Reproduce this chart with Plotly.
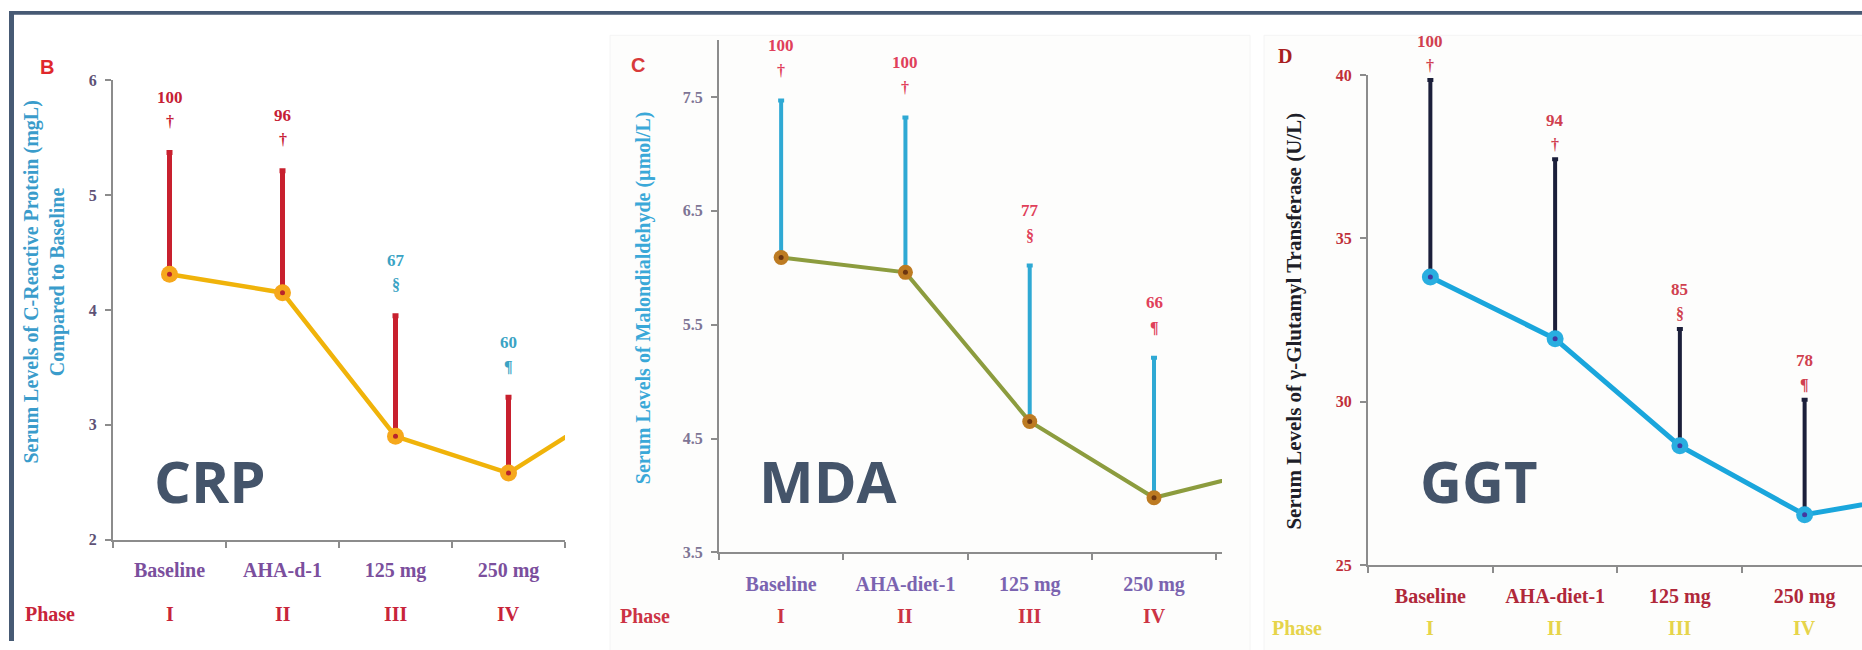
import plotly.graph_objects as go

# ---- data -------------------------------------------------------------
phases = ["I", "II", "III", "IV"]
sig_marks = ["†", "†", "§", "¶"]

crp_labels = ["Baseline", "AHA-d-1", "125 mg", "250 mg"]
crp_mean = [4.31, 4.15, 2.90, 2.58, 3.20]      # last value: following phase
crp_sd = [1.06, 1.06, 1.05, 0.66]
crp_pct = [100, 96, 67, 60]

mda_labels = ["Baseline", "AHA-diet-1", "125 mg", "250 mg"]
mda_mean = [6.09, 5.96, 4.65, 3.98, 4.25]
mda_sd = [1.38, 1.36, 1.37, 1.23]
mda_pct = [100, 100, 77, 66]

ggt_labels = ["Baseline", "AHA-diet-1", "125 mg", "250 mg"]
ggt_mean = [33.82, 31.93, 28.65, 26.54, 27.20]
ggt_sd = [6.03, 5.50, 3.58, 3.52]
ggt_pct = [100, 94, 85, 78]

crp_ticks = [2, 3, 4, 5, 6]
mda_ticks = [3.5, 4.5, 5.5, 6.5, 7.5]
ggt_ticks = [25, 30, 35, 40]

# ---- canvas helpers ----------------------------------------------------
W, H = 1862, 650


def px(x):
    return x / W


def py(y):
    return 1 - y / H


SERIF = "Liberation Serif"

panels = [
    dict(key="", letter="B", name="CRP", labels=crp_labels, mean=crp_mean, sd=crp_sd,
         pct=crp_pct, ticks=crp_ticks, tickfmt="{:g}",
         xdom=(113, 565), xr=(-0.5, 3.5), ydom=(546, 74), yr=(2, 6),
         line="#f0b30a", lw=4.5, mk="#f6a81c", mks=17, dot="#b8242c",
         err="#c8202e", errw=5,
         pct_col=["#c62035", "#c62035", "#3aa3c4", "#3aa3c4"],
         ytick_col="#5e5276", xtick_col="#7b4f9d", phase_col="#c8243a",
         title="Serum Levels of C-Reactive Protein (mgL)<br>Compared to Baseline",
         title_col="#3a9ccb", title_xy=(45, 282), title_size=20,
         letter_xy=(47, 61), letter_col="#e0282c", letter_font="Liberation Sans",
         phase_xy=(50, 622), xlab_shift=11, num_up=55, sym_up=31,
         big_xy=(210, 485)),
    dict(key="2", letter="C", name="MDA", labels=mda_labels, mean=mda_mean, sd=mda_sd,
         pct=mda_pct, ticks=mda_ticks, tickfmt="{:.1f}",
         xdom=(719, 1222), xr=(-0.5, 3.547), ydom=(559, 33), yr=(3.5, 8.0),
         line="#8c9c3e", lw=4, mk="#bd7b22", mks=15, dot="#6b3510",
         err="#2fa9d4", errw=4,
         pct_col=["#e0405a"] * 4,
         ytick_col="#7d7595", xtick_col="#7b64b0", phase_col="#cc3344",
         title="Serum Levels of Malondialdehyde (µmol/L)",
         title_col="#3aa8d8", title_xy=(643, 298), title_size=20,
         letter_xy=(638, 59), letter_col="#d83a3a", letter_font="Liberation Sans",
         phase_xy=(645, 624), xlab_shift=13, num_up=55, sym_up=30,
         big_xy=(828, 485)),
    dict(key="3", letter="D", name="GGT", labels=ggt_labels, mean=ggt_mean, sd=ggt_sd,
         pct=ggt_pct, ticks=ggt_ticks, tickfmt="{:g}",
         xdom=(1368, 1862), xr=(-0.5, 3.46), ydom=(572, 69), yr=(25, 40),
         line="#1aa6dc", lw=5, mk="#29aee0", mks=17, dot="#4338a0",
         err="#1b1f3a", errw=4,
         pct_col=["#d0404f"] * 4,
         ytick_col="#c0303a", xtick_col="#b0283a", phase_col="#e6d44a",
         title="Serum Levels of γ-Glutamyl Transferase (U/L)",
         title_col="#1e1e28", title_xy=(1294, 322), title_size=21,
         letter_xy=(1285, 49), letter_col="#a82020", letter_font=SERIF,
         phase_xy=(1297, 637), xlab_shift=12, num_up=39, sym_up=15,
         big_xy=(1479, 485)),
]

fig = go.Figure()
annotations = []
shapes = []


def label(x, y, text, font, xref="paper", yref="paper", **kw):
    a = dict(x=x, y=y, xref=xref, yref=yref, text=text, showarrow=False,
             xanchor="center", yanchor="middle", font=font)
    a.update(kw)
    annotations.append(a)


# faint panel boxes for the second and third charts
for x0, y0 in [(610, 28), (1264, 28)]:
    shapes.append(dict(type="rect", xref="paper", yref="paper",
                       x0=px(x0), x1=px(x0 + 640), y0=py(H + 10), y1=py(y0),
                       line=dict(color="#f4f4f4", width=1), fillcolor="#fdfdfc",
                       layer="below"))

for p in panels:
    xa = "x" + p["key"]
    ya = "y" + p["key"]
    n = len(p["labels"])
    idx = list(range(n))
    tops = [m + s for m, s in zip(p["mean"], p["sd"])]

    # upper SD whiskers
    fig.add_trace(go.Scatter(
        x=idx, y=p["mean"][:n], mode="markers", xaxis=xa, yaxis=ya,
        marker=dict(size=1, color="rgba(0,0,0,0)"),
        error_y=dict(type="data", symmetric=False, array=p["sd"],
                     arrayminus=[0] * n, color=p["err"],
                     thickness=p["errw"], width=3),
        hoverinfo="skip", showlegend=False))
    # mean trend line (continues into the following phase)
    fig.add_trace(go.Scatter(
        x=list(range(len(p["mean"]))), y=p["mean"], mode="lines",
        xaxis=xa, yaxis=ya, line=dict(color=p["line"], width=p["lw"]),
        showlegend=False))
    fig.add_trace(go.Scatter(
        x=idx, y=p["mean"][:n], mode="markers", xaxis=xa, yaxis=ya,
        marker=dict(size=p["mks"], color=p["mk"]), showlegend=False))
    fig.add_trace(go.Scatter(
        x=idx, y=p["mean"][:n], mode="markers", xaxis=xa, yaxis=ya,
        marker=dict(size=5, color=p["dot"]), showlegend=False))

    # axes
    fig.update_layout({
        "xaxis" + p["key"]: dict(
            domain=[px(p["xdom"][0]), px(p["xdom"][1])], range=list(p["xr"]),
            anchor=ya, tickmode="array", tickvals=idx, ticktext=p["labels"],
            ticks="", showline=True, linecolor="#8c8c8c", linewidth=2,
            showgrid=False, zeroline=False, ticklabelstandoff=p["xlab_shift"],
            tickfont=dict(family=SERIF, size=20, color=p["xtick_col"],
                          weight="bold"),
            minor=dict(tickmode="linear", tick0=-0.5, dtick=1, ticks="outside",
                       ticklen=6, tickwidth=1.5, tickcolor="#8c8c8c",
                       showgrid=False),
            fixedrange=True),
        "yaxis" + p["key"]: dict(
            domain=[py(p["ydom"][0]), py(p["ydom"][1])], range=list(p["yr"]),
            anchor=xa, tickmode="array", tickvals=p["ticks"],
            ticktext=[p["tickfmt"].format(t) for t in p["ticks"]],
            ticks="outside", ticklen=6, tickwidth=1.5, tickcolor="#8c8c8c",
            showline=True, linecolor="#8c8c8c", linewidth=2,
            showgrid=False, zeroline=False, ticklabelstandoff=5,
            tickfont=dict(family=SERIF, size=16, color=p["ytick_col"],
                          weight="bold"),
            fixedrange=True),
    })

    # percentage of baseline and significance marks above each whisker
    for i in idx:
        label(i, tops[i], "<b>%d</b>" % p["pct"][i],
              dict(family=SERIF, size=17, color=p["pct_col"][i]),
              xref=xa, yref=ya, yshift=p["num_up"])
        label(i, tops[i], "<b>%s</b>" % sig_marks[i],
              dict(family=SERIF, size=16, color=p["pct_col"][i]),
              xref=xa, yref=ya, yshift=p["sym_up"])

    # phase row
    phase_font = dict(family=SERIF, size=20, color=p["phase_col"])
    label(px(p["phase_xy"][0]), py(p["phase_xy"][1]), "<b>Phase</b>", phase_font)
    for i in idx:
        label(i, py(p["phase_xy"][1]), "<b>%s</b>" % phases[i], phase_font, xref=xa)

    # y-axis title
    label(px(p["title_xy"][0]), py(p["title_xy"][1]), "<b>%s</b>" % p["title"],
          dict(family=SERIF, size=p["title_size"], color=p["title_col"]),
          textangle=-90)

    # panel letter
    label(px(p["letter_xy"][0]), py(p["letter_xy"][1]), "<b>%s</b>" % p["letter"],
          dict(family=p["letter_font"], size=20, color=p["letter_col"]))

    # marker name
    label(px(p["big_xy"][0]), py(p["big_xy"][1]), "<b>%s</b>" % p["name"],
          dict(family="Open Sans", size=58, color="#44546a"))

# outer frame (top and left edges)
frame = "#475a74"
shapes.append(dict(type="rect", xref="paper", yref="paper",
                   x0=px(9), x1=px(W), y0=py(7), y1=py(3),
                   line=dict(width=0), fillcolor=frame))
shapes.append(dict(type="rect", xref="paper", yref="paper",
                   x0=px(9), x1=px(14), y0=py(H), y1=py(3),
                   line=dict(width=0), fillcolor=frame))

fig.update_layout(
    width=W, height=H, margin=dict(l=0, r=0, t=0, b=0),
    paper_bgcolor="white", plot_bgcolor="rgba(0,0,0,0)",
    showlegend=False, annotations=annotations, shapes=shapes,
)

fig.write_html("out.html")
